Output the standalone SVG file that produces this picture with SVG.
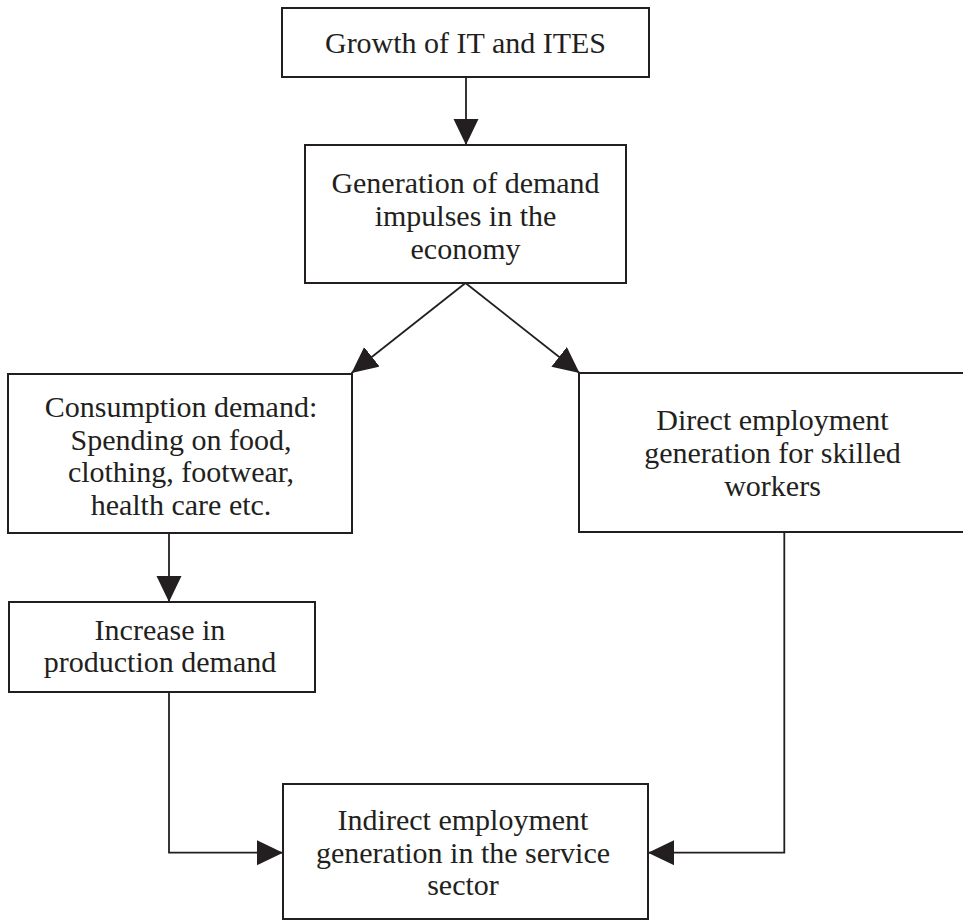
<svg xmlns="http://www.w3.org/2000/svg" width="963" height="921" viewBox="0 0 963 921">
<defs>
<style>
.box{fill:#fff;stroke:#231f20;stroke-width:2}
.lbl{font-family:"Liberation Serif","Times New Roman",serif;font-size:30px;fill:#231f20;text-anchor:middle}
.con{fill:none;stroke:#231f20;stroke-width:1.8}
</style>
<marker id="ah" markerUnits="userSpaceOnUse" markerWidth="27" markerHeight="26" refX="26" refY="12.5" orient="auto" viewBox="0 0 27 26">
<path d="M0,0 L26,12.5 L0,25 z" fill="#231f20"/>
</marker>
</defs>
<rect width="963" height="921" fill="#fff"/>
<g id="connectors">
<line class="con" x1="466" y1="77" x2="466" y2="145" marker-end="url(#ah)"/>
<line class="con" x1="465.5" y1="283" x2="351.5" y2="373" marker-end="url(#ah)"/>
<line class="con" x1="465.5" y1="283" x2="579.5" y2="373" marker-end="url(#ah)"/>
<line class="con" x1="169" y1="533" x2="169" y2="602" marker-end="url(#ah)"/>
<polyline class="con" points="169,692 169,852.7 283,852.7" marker-end="url(#ah)"/>
<polyline class="con" points="784.3,532 784.3,852.7 648,852.7" marker-end="url(#ah)"/>
</g>
<g id="n1">
<rect class="box" x="282" y="8" width="367" height="69"/>
<text class="lbl" x="465.5" y="53">Growth of IT and ITES</text>
</g>
<g id="n2">
<rect class="box" x="305" y="145" width="321" height="138"/>
<text class="lbl" x="465.5" y="193">Generation of demand</text>
<text class="lbl" x="465.5" y="226">impulses in the</text>
<text class="lbl" x="465.5" y="259">economy</text>
</g>
<g id="n3">
<rect class="box" x="8" y="374" width="344" height="159"/>
<text class="lbl" x="181" y="417">Consumption demand:</text>
<text class="lbl" x="181" y="449.5">Spending on food,</text>
<text class="lbl" x="181" y="482">clothing, footwear,</text>
<text class="lbl" x="181" y="514.5">health care etc.</text>
</g>
<g id="n4">
<rect class="box" x="579" y="373" width="390" height="159"/>
<text class="lbl" x="772.5" y="430">Direct employment</text>
<text class="lbl" x="772.5" y="463">generation for skilled</text>
<text class="lbl" x="772.5" y="496">workers</text>
</g>
<g id="n5">
<rect class="box" x="9" y="602" width="306" height="90"/>
<text class="lbl" x="160" y="640">Increase in</text>
<text class="lbl" x="160" y="672">production demand</text>
</g>
<g id="n6">
<rect class="box" x="283" y="784" width="365" height="135"/>
<text class="lbl" x="463" y="830">Indirect employment</text>
<text class="lbl" x="463" y="863">generation in the service</text>
<text class="lbl" x="463" y="895">sector</text>
</g>
</svg>
